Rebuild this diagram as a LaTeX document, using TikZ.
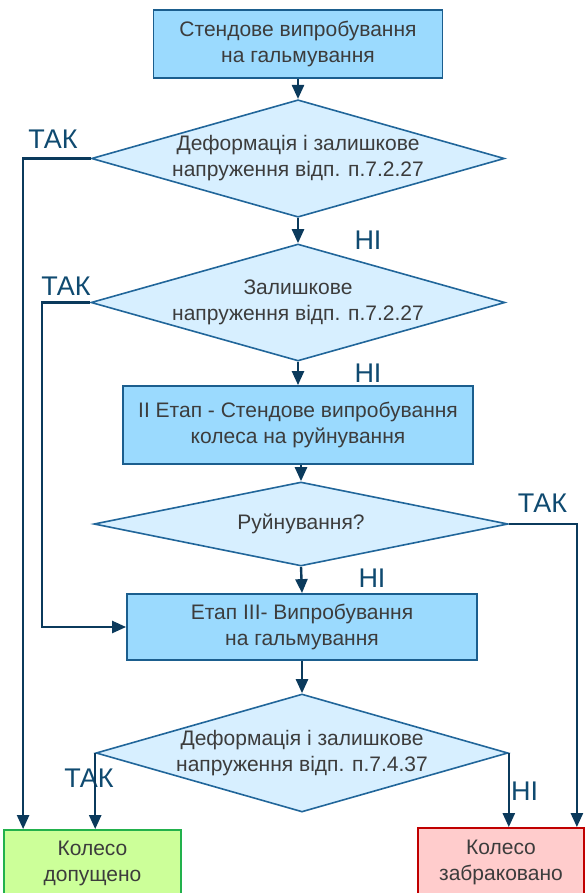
\documentclass[tikz,border=0pt]{standalone}
\usepackage{fontspec}
\setmainfont{Liberation Sans}
\usetikzlibrary{shapes.geometric,arrows.meta}

\definecolor{boxfill}{HTML}{9BDAFE}
\definecolor{boxline}{HTML}{1B5E8E}
\definecolor{decfill}{HTML}{D7EFFF}
\definecolor{decline}{HTML}{21669A}
\definecolor{flowline}{HTML}{0B3A5C}
\definecolor{lbltext}{HTML}{0F4A70}
\definecolor{bodytext}{HTML}{3C3C3C}
\definecolor{okfill}{HTML}{CCFF99}
\definecolor{okline}{HTML}{22B14C}
\definecolor{badfill}{HTML}{FFCCCC}
\definecolor{badline}{HTML}{C00000}

\begin{document}
\begin{tikzpicture}[x=1pt, y=-1pt,
  txt/.style={font=\fontsize{21}{26}\selectfont, text=bodytext, align=center, inner sep=0pt},
  proc/.style={txt, rectangle, draw=boxline, fill=boxfill, line width=1.8pt},
  decision/.style={txt, diamond, draw=decline, fill=decfill, line width=1.6pt, aspect=3.5},
  flow/.style={draw=flowline, line width=2.4pt, -{Triangle[length=14pt,width=12pt]}},
  lbl/.style={font=\fontsize{27}{27}\selectfont, text=lbltext, inner sep=0pt}]

\useasboundingbox (0,0) rectangle (587,893);

% main column
\node[proc, minimum width=289pt, minimum height=68pt] (start) at (298,44) {Стендове випробування\\на гальмування};
\node[decision, minimum width=413pt, minimum height=117pt] (dec1) at (298,158.5) {Деформація і залишкове\\напруження відп. п.7.2.27};
\node[decision, minimum width=414pt, minimum height=117pt] (dec2) at (298,302.5) {Залишкове\\напруження відп. п.7.2.27};
\node[proc, minimum width=350pt, minimum height=78pt] (stage2) at (298,425) {II Етап - Стендове випробування\\колеса на руйнування};
\node[decision, minimum width=414pt, minimum height=84pt] (dec3) at (301,524) {Руйнування?};
\node[proc, minimum width=350pt, minimum height=66pt] (stage3) at (302,627) {Етап III- Випробування\\на гальмування};
\node[decision, minimum width=412pt, minimum height=118pt] (dec4) at (302,753) {Деформація і залишкове\\напруження відп. п.7.4.37};

% results
\node[txt, draw=okline, fill=okfill, line width=1.8pt, minimum width=177pt, minimum height=66pt] (ok) at (92.5,863) {Колесо\\допущено};
\node[txt, draw=badline, fill=badfill, line width=1.8pt, minimum width=166pt, minimum height=68pt] (bad) at (501,862) {Колесо\\забраковано};

% answers
\node[lbl] (yes1) at (53,139) {ТАК};
\node[lbl] (no1) at (368,240) {НІ};
\node[lbl] (yes2) at (66,286) {ТАК};
\node[lbl] (no2) at (368,373) {НІ};
\node[lbl] (yes3) at (542.5,503.5) {ТАК};
\node[lbl] (no3) at (372,578) {НІ};
\node[lbl] (yes4) at (89,778.5) {ТАК};
\node[lbl] (no4) at (524.5,791) {НІ};

\draw[flow] (start.south) -- (dec1.north);
\draw[flow] (dec1.south) -- (dec2.north);
\draw[flow] (dec2.south) -- (stage2.north);
\draw[flow] (stage2.south -| dec3.north) -- (dec3.north);
\draw[flow] (dec3.south) -- (stage3.north);
\draw[flow] (stage3.south) -- (dec4.north);

% yes / no branches
\draw[flow] (dec1.west) -| ([xshift=20pt]ok.north west);
\draw[flow] (dec2.west) -- ++(-48,0) |- (stage3.west);
\draw[flow] (dec3.east) -| ([xshift=-8pt]bad.north east);
\draw[flow] (dec4.west) -- (dec4.west |- ok.north);
\draw[flow] (dec4.east) -- (dec4.east |- bad.north);

\end{tikzpicture}
\end{document}
